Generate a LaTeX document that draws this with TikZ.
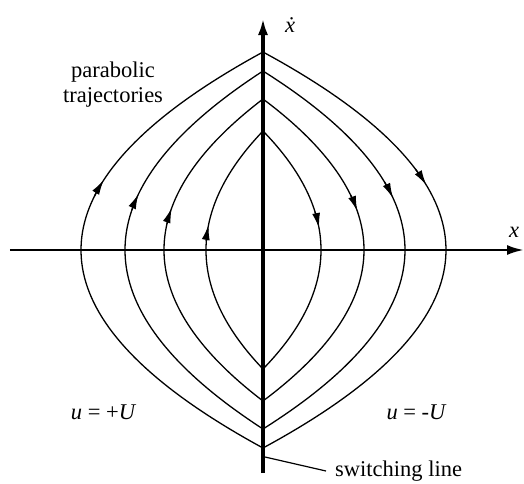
\documentclass[tikz,border=0pt]{standalone}
\usepackage{fontspec}
\setmainfont{Liberation Serif}
\usepackage{tikz}
\usetikzlibrary{positioning, arrows.meta}

\tikzset{
  traj/.style={line width=1.3pt},
  axis/.style={line width=2.6pt, -{Latex[length=17pt,width=10pt]}},
  lbl/.style={font=\rmfamily\fontsize{22.5}{25}\selectfont, inner sep=0pt},
}

\begin{document}
\begin{tikzpicture}[x=1pt, y=1pt]
    \useasboundingbox (-263,-233) rectangle (261,250);

    % The two axes
    \coordinate (xl) at (-253,0);
    \coordinate (xr) at (261,0);
    \coordinate (yb) at (0,-223);
    \coordinate (yt) at (0,232);
    \draw[axis] (xl) -- (xr);
    \draw[axis, line width=3.4pt] (yb) -- (yt);

    % Parabolic trajectories, right half u=-U going down, left half u=+U going up
    \foreach \al/\ar/\h/\yl/\yr in {57/58/119/25/22, 99/101/151/42/39, 138/142/179/56/52, 182/183/198/70/65} {
        \draw[traj] plot[domain=\h:-\h, samples=80] ({\ar*(1-(\x/\h)*(\x/\h))}, \x);
        \draw[traj] plot[domain=-\h:\h, samples=80] ({-\al*(1-(\x/\h)*(\x/\h))}, \x);
        % arrow heads
        \draw[traj, -{Latex[length=15pt,width=8pt]}] plot[domain=\yr+16:\yr, samples=5] ({\ar*(1-(\x/\h)*(\x/\h))}, \x);
        \draw[traj, -{Latex[length=15pt,width=8pt]}] plot[domain=\yl-16:\yl, samples=5] ({-\al*(1-(\x/\h)*(\x/\h))}, \x);
    }

    % Axis labels
    \node[lbl] (xdot) at (27,225) {\.{\itshape x}};
    \node[lbl] (xlab) at (251,18) {\itshape x};

    % Region and curve labels
    \node[lbl, align=center] (para) at (-150,165) {parabolic\\trajectories};
    \node[lbl] (uplus) at (-160,-162) {{\itshape u} = +{\itshape U}};
    \node[lbl] (uminus) at (153,-162) {{\itshape u} = -{\itshape U}};

    % Leader to the switching line
    \coordinate (sw) at (2,-207);
    \node[lbl, anchor=west] (swlab) at (72,-221) {switching line};
    \draw[line width=1.2pt] (sw) -- ([xshift=-9pt]swlab.west);

\end{tikzpicture}
\end{document}
